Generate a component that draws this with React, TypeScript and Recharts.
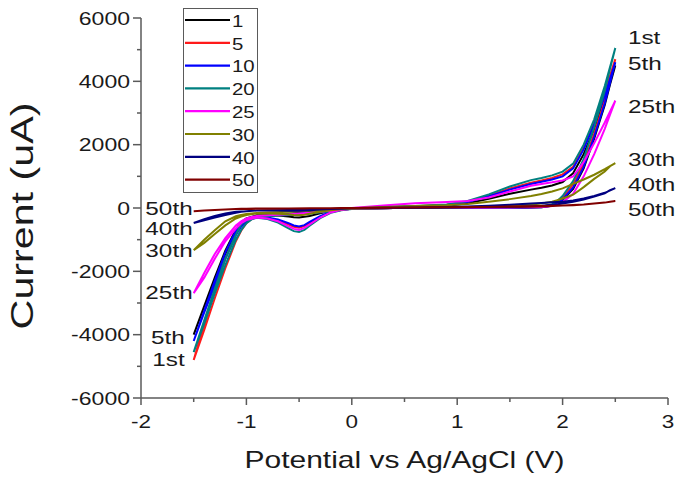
import React from 'react';
import { LineChart, Line, XAxis, YAxis, ReferenceDot, Legend } from 'recharts';

const FONT = '"Liberation Sans", Arial, Helvetica, sans-serif';
const AXIS = '#5a5a5a';

// Potential (V): forward scan then reverse scan
const forwardPotential = [-1.5, -1.4, -1.3, -1.2, -1.1, -1.05, -1.0, -0.95, -0.9, -0.8, -0.6, -0.4, -0.2, 0, 0.3, 0.6, 0.9, 1.1, 1.3, 1.5, 1.7, 1.8, 1.9, 2.0, 2.1, 2.2, 2.3, 2.4, 2.5];
const reversePotential = [2.45, 2.4, 2.3, 2.2, 2.1, 2.0, 1.95, 1.9, 1.8, 1.6, 1.2, 0.8, 0.4, 0, -0.1, -0.2, -0.3, -0.4, -0.45, -0.5, -0.55, -0.6, -0.7, -0.8, -0.9, -1.0, -1.05, -1.1, -1.2, -1.3, -1.4, -1.5];

const cycleNames = ['1', '5', '10', '20', '25', '30', '40', '50'];
const cycleColors = ['#000000', '#ff1a1a', '#0000ff', '#008080', '#ff00ff', '#808000', '#000080', '#800000'];

// Current (uA)
const cycle1Forward = [-4000, -3100, -2250, -1450, -750, -520, -380, -290, -250, -220, -180, -130, -70, -20, 10, 35, 70, 150, 290, 450, 580, 640, 710, 820, 1100, 1700, 2500, 3450, 4500];
const cycle1Reverse = [3900, 3250, 2200, 1250, 600, 250, 140, 70, 20, 10, 5, 2, 0, -20, -45, -90, -170, -250, -280, -300, -290, -270, -240, -220, -230, -330, -450, -680, -1350, -2200, -3100, -4000];
const cycle5Forward = [-4800, -3850, -2850, -1900, -1050, -720, -480, -350, -290, -250, -210, -160, -90, -25, 25, 55, 100, 200, 390, 620, 800, 870, 950, 1060, 1300, 1900, 2700, 3650, 4700];
const cycle5Reverse = [4050, 3400, 2350, 1400, 750, 320, 180, 100, 30, 15, 8, 4, 0, -25, -60, -130, -280, -470, -570, -620, -590, -520, -390, -320, -290, -370, -520, -830, -1600, -2600, -3650, -4800];
const cycle10Forward = [-4200, -3300, -2450, -1600, -850, -590, -420, -320, -280, -240, -200, -150, -80, -20, 20, 50, 90, 190, 370, 580, 760, 830, 900, 1000, 1250, 1850, 2650, 3550, 4600];
const cycle10Reverse = [3950, 3300, 2250, 1300, 650, 270, 150, 80, 25, 10, 6, 3, 0, -25, -55, -120, -260, -440, -540, -580, -550, -480, -360, -300, -280, -350, -470, -720, -1400, -2300, -3250, -4200];
const cycle20Forward = [-4550, -3650, -2700, -1800, -1000, -700, -480, -360, -300, -260, -220, -170, -100, -30, 30, 60, 110, 220, 430, 680, 880, 950, 1030, 1150, 1400, 2000, 2800, 3850, 5050];
const cycle20Reverse = [4400, 3700, 2550, 1550, 850, 380, 220, 120, 40, 20, 10, 5, 0, -30, -70, -150, -320, -560, -690, -760, -730, -640, -460, -350, -310, -380, -520, -850, -1600, -2550, -3550, -4550];
const cycle25Forward = [-2690, -2050, -1450, -950, -550, -420, -330, -280, -250, -230, -200, -150, -80, 0, 80, 150, 190, 220, 330, 520, 700, 760, 810, 870, 1000, 1450, 2050, 2700, 3390];
const cycle25Reverse = [2950, 2500, 1700, 1000, 450, 180, 110, 60, 30, 20, 10, 5, 0, -25, -60, -140, -300, -520, -630, -690, -660, -580, -420, -330, -300, -380, -480, -650, -1050, -1600, -2200, -2690];
const cycle30Forward = [-1330, -1000, -700, -420, -260, -220, -190, -170, -160, -140, -120, -90, -50, -10, 30, 60, 90, 130, 200, 280, 380, 440, 520, 620, 760, 900, 1050, 1230, 1420];
const cycle30Reverse = [1320, 1150, 920, 660, 420, 300, 250, 200, 140, 80, 40, 10, 0, -20, -40, -70, -120, -180, -210, -230, -220, -200, -180, -170, -170, -220, -270, -330, -550, -820, -1100, -1330];
const cycle40Forward = [-475, -350, -250, -170, -120, -110, -100, -90, -80, -70, -60, -50, -30, -10, 5, 15, 30, 45, 70, 100, 140, 160, 180, 200, 240, 300, 380, 480, 630];
const cycle40Reverse = [560, 460, 360, 270, 200, 140, 120, 100, 70, 40, 20, 10, 0, -10, -20, -30, -50, -70, -80, -90, -88, -85, -80, -80, -80, -100, -120, -150, -220, -300, -390, -475];
const cycle50Forward = [-100, -80, -60, -45, -35, -32, -30, -28, -25, -20, -15, -10, -5, 0, 8, 15, 22, 28, 35, 45, 55, 60, 70, 80, 95, 110, 140, 170, 220];
const cycle50Reverse = [200, 170, 140, 110, 90, 75, 68, 60, 50, 40, 30, 20, 10, 0, -3, -5, -8, -10, -12, -15, -15, -15, -15, -15, -15, -20, -25, -30, -45, -60, -80, -100];

const forwardCurrents = [cycle1Forward, cycle5Forward, cycle10Forward, cycle20Forward, cycle25Forward, cycle30Forward, cycle40Forward, cycle50Forward];
const reverseCurrents = [cycle1Reverse, cycle5Reverse, cycle10Reverse, cycle20Reverse, cycle25Reverse, cycle30Reverse, cycle40Reverse, cycle50Reverse];

const xTicks = [-2, -1.5, -1, -0.5, 0, 0.5, 1, 1.5, 2, 2.5, 3];
const yTicks = [-6000, -5000, -4000, -3000, -2000, -1000, 0, 1000, 2000, 3000, 4000, 5000, 6000];

// Annotations (text, anchor potential, anchor current)
const rightLabelText = ['1st', '5th', '25th', '30th', '40th', '50th'];
const rightLabelCurrent = [5380, 4540, 3180, 1500, 720, -60];
const rightLabelPotential = 2.62;
const leftLabelText = ['50th', '40th', '30th', '25th', '5th', '1st'];
const leftLabelCurrent = [-20, -680, -1350, -2690, -4110, -4810];
const leftLabelPotential = [-1.51, -1.51, -1.51, -1.51, -1.585, -1.585];

const series = cycleNames.map((name, i) => ({
  name,
  color: cycleColors[i],
  data: [
    ...forwardPotential.map((x, j) => ({ x, y: forwardCurrents[i][j] })),
    ...reversePotential.map((x, j) => ({ x, y: reverseCurrents[i][j] })),
  ],
}));

const SText = ({ x, y, size, sx, anchor, children, rotate }: any) => (
  <text
    transform={`translate(${x} ${y})${rotate ? ` rotate(${rotate})` : ''} scale(${sx} 1)`}
    textAnchor={anchor}
    dominantBaseline="central"
    fontFamily={FONT}
    fontSize={size}
    fill="#1a1a1a"
  >
    {children}
  </text>
);

const XTick = (props: any) => {
  const { x, y, payload } = props;
  const v = payload.value;
  const major = Number.isInteger(v);
  return (
    <g>
      <line x1={x} x2={x} y1={y} y2={y + (major ? 7 : 4)} stroke={AXIS} strokeWidth={1.5} />
      {major && (
        <SText x={x} y={y + 24} size={18} sx={1.25} anchor="middle">{String(v)}</SText>
      )}
    </g>
  );
};

const YTick = (props: any) => {
  const { x, y, payload } = props;
  const v = payload.value;
  const major = v % 2000 === 0;
  return (
    <g>
      <line x1={x - (major ? 8 : 4)} x2={x} y1={y} y2={y} stroke={AXIS} strokeWidth={1.5} />
      {major && (
        <SText x={x - 11} y={y} size={18} sx={1.28} anchor="end">{String(v)}</SText>
      )}
    </g>
  );
};

const XTitle = (props: any) => {
  const { viewBox } = props;
  return (
    <SText x={viewBox.x + viewBox.width / 2} y={460} size={24} sx={1.25} anchor="middle">
      Potential vs Ag/AgCl (V)
    </SText>
  );
};

const YTitle = () => (
  <SText x={22} y={216} size={31} sx={1.33} anchor="middle" rotate={-90}>
    Current (uA)
  </SText>
);

const AnnLabel = (props: any) => {
  const { viewBox, text, side } = props;
  const x = viewBox.x + (viewBox.width || 0) / 2;
  const y = viewBox.y + (viewBox.height || 0) / 2;
  return (
    <SText x={x} y={y} size={18} sx={1.35} anchor={side === 'right' ? 'start' : 'end'}>
      {text}
    </SText>
  );
};

const renderLegend = () => (
  <div
    style={{
      width: 75,
      height: 185,
      border: `1.5px solid ${AXIS}`,
      boxSizing: 'border-box',
      background: '#fff',
    }}
  >
    <svg width={72} height={182} style={{ display: 'block' }}>
      {series.map((s, i) => (
        <g key={s.name}>
          <line x1={1} x2={46} y1={11 + i * 22.8} y2={11 + i * 22.8} stroke={s.color} strokeWidth={2.2} />
          <SText x={48} y={12 + i * 22.8} size={17} sx={1.2} anchor="start">{s.name}</SText>
        </g>
      ))}
    </svg>
  </div>
);

export default function App() {
  return (
    <div style={{ position: 'absolute', left: 0, top: 0, width: 685, height: 493, background: '#fff' }}>
      <LineChart width={685} height={493} margin={{ top: 18, right: 17, bottom: 0, left: 0 }}>
        <XAxis
          type="number"
          dataKey="x"
          domain={[-2, 3]}
          ticks={xTicks}
          interval={0}
          allowDataOverflow
          height={95}
          tickSize={0}
          tickMargin={0}
          tickLine={false}
          axisLine={{ stroke: AXIS, strokeWidth: 1.5 }}
          tick={<XTick />}
          label={<XTitle />}
        />
        <YAxis
          type="number"
          dataKey="y"
          domain={[-6000, 6000]}
          ticks={yTicks}
          interval={0}
          allowDataOverflow
          width={141}
          tickSize={0}
          tickMargin={0}
          tickLine={false}
          axisLine={{ stroke: AXIS, strokeWidth: 1.5 }}
          tick={<YTick />}
          label={<YTitle />}
        />
        <Legend
          layout="vertical"
          align="center"
          verticalAlign="middle"
          content={renderLegend}
          wrapperStyle={{ position: 'absolute', left: 183, top: 8, width: 75, height: 185 }}
        />
        {series.map((s) => (
          <Line
            key={s.name}
            name={s.name}
            data={s.data}
            dataKey="y"
            type="linear"
            stroke={s.color}
            strokeWidth={2}
            dot={false}
            activeDot={false}
            isAnimationActive={false}
          />
        ))}
        {rightLabelText.map((t, i) => (
          <ReferenceDot
            key={'r' + t}
            x={rightLabelPotential}
            y={rightLabelCurrent[i]}
            r={0}
            fill="none"
            stroke="none"
            ifOverflow="visible"
            label={<AnnLabel text={t} side="right" />}
          />
        ))}
        {leftLabelText.map((t, i) => (
          <ReferenceDot
            key={'l' + t}
            x={leftLabelPotential[i]}
            y={leftLabelCurrent[i]}
            r={0}
            fill="none"
            stroke="none"
            ifOverflow="visible"
            label={<AnnLabel text={t} side="left" />}
          />
        ))}
      </LineChart>
    </div>
  );
}
